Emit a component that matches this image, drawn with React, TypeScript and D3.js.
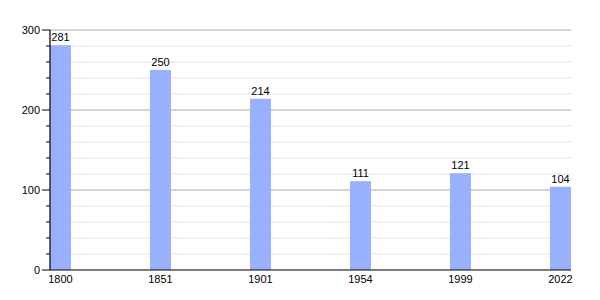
import React from "react";
import * as d3 from "d3";

const years = ["1800", "1851", "1901", "1954", "1999", "2022"];
const population = [281, 250, 214, 111, 121, 104];
const majorTicks = [0, 100, 200, 300];
const minorTicks = [20, 40, 60, 80, 120, 140, 160, 180, 220, 240, 260, 280];

export default function App() {
  const W = 600, H = 300;
  const left = 50, right = 571, top = 30, bottom = 270;
  const y = d3.scaleLinear().domain([0, 300]).range([bottom, top]);
  const barW = 21;
  const x = d3.scalePoint<string>().domain(years).range([left, right - barW]);
  const font = "Liberation Sans, Arial, sans-serif";
  return (
    <svg width={W} height={H} style={{ position: "absolute", left: 0, top: 0 }} fontFamily={font}>
      <rect width={W} height={H} fill="#fff" />
      {minorTicks.map((t) => (
        <line key={"m" + t} x1={left} x2={right} y1={y(t)} y2={y(t)} stroke="#e2e2e2" strokeWidth={1} />
      ))}
      {majorTicks.filter((t) => t > 0).map((t) => (
        <line key={"M" + t} x1={left} x2={right} y1={y(t)} y2={y(t)} stroke="#a8a8a8" strokeWidth={1} />
      ))}
      {years.map((yr, i) => (
        <rect key={yr} x={x(yr)!} y={y(population[i])} width={barW} height={bottom - y(population[i])} fill="#99b0fd" />
      ))}
      {years.map((yr, i) => (
        <text key={"l" + yr} x={x(yr)! + barW / 2} y={y(population[i]) - 4} textAnchor="middle" fontSize={11} fill="#000">
          {population[i]}
        </text>
      ))}
      <line x1={left} x2={left} y1={top} y2={bottom} stroke="#000" strokeWidth={1.2} />
      <line x1={left} x2={right} y1={bottom} y2={bottom} stroke="#000" strokeWidth={1.2} />
      {majorTicks.map((t) => (
        <g key={"t" + t}>
          <line x1={left - 8} x2={left} y1={y(t)} y2={y(t)} stroke="#000" strokeWidth={1} />
          <text x={left - 10} y={y(t) + 4} textAnchor="end" fontSize={11} fill="#000">{t}</text>
        </g>
      ))}
      {minorTicks.map((t) => (
        <line key={"mt" + t} x1={left - 4} x2={left} y1={y(t)} y2={y(t)} stroke="#000" strokeWidth={1} />
      ))}
      {years.map((yr) => (
        <text key={"x" + yr} x={x(yr)! + barW / 2} y={bottom + 13} textAnchor="middle" fontSize={11} fill="#000">
          {yr}
        </text>
      ))}
    </svg>
  );
}
